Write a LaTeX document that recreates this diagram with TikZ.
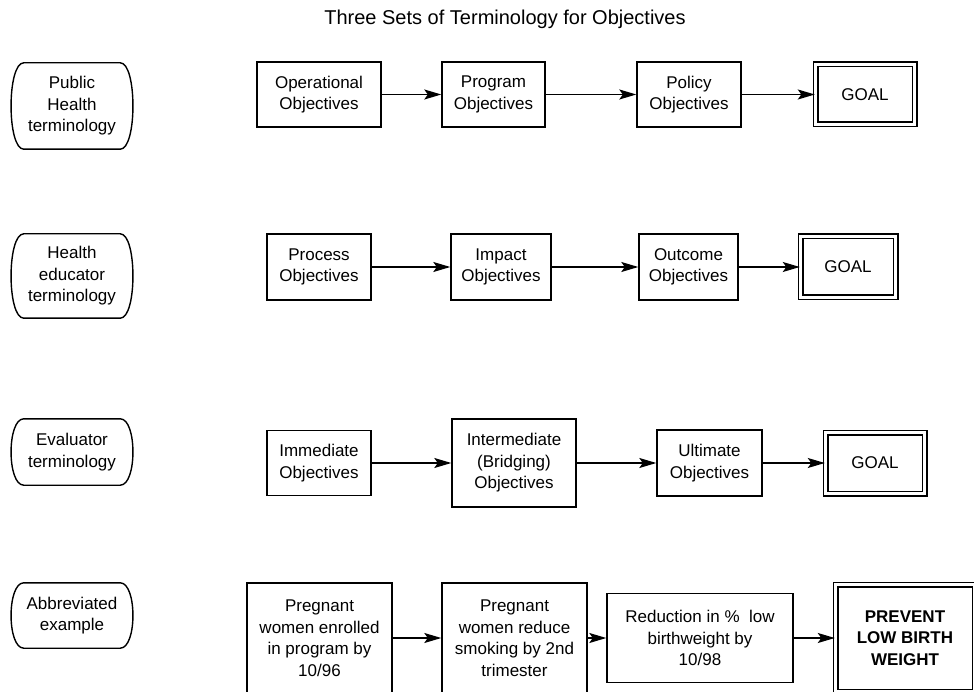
\documentclass[tikz,border=0pt]{standalone}
\usepackage{fontspec}
\setmainfont{Liberation Sans}
\usetikzlibrary{arrows.meta}

% rounded "barrel" outline drawn around a named node
\newcommand\barrelbox[1]{%
  \draw[line width=1.4pt]
    ([xshift=14pt]#1.north west) -- ([xshift=-14pt]#1.north east)
    .. controls ([xshift=3pt]#1.north east) and ([xshift=3pt]#1.south east) .. ([xshift=-14pt]#1.south east)
    -- ([xshift=14pt]#1.south west)
    .. controls ([xshift=-3pt]#1.south west) and ([xshift=-3pt]#1.north west) .. cycle;}

\begin{document}
\begin{tikzpicture}[x=1pt,y=-1pt,
  lbl/.style={font=\fontsize{17}{21.5}\selectfont, align=center, inner sep=0pt},
  term/.style={lbl, minimum width=124, draw=none},
  box/.style={lbl, draw, line width=1.4pt},
  goal/.style={lbl, draw, line width=1.4pt, double, double distance=3.2pt},
  arr/.style={line width=1.4pt, -{Stealth[length=17pt,width=10pt,inset=3.5pt]}}
]
\useasboundingbox (0,0) rectangle (974,692);
\clip (0,0) rectangle (974,692);

\node[font=\fontsize{20}{24}\selectfont] (title) at (505,19) {Three Sets of Terminology for Objectives};

% row labels
\node[term, minimum height=86] (t1) at (72,106) {Public\\Health\\terminology};
\node[term, minimum height=84] (t2) at (72,276) {Health\\educator\\terminology};
\node[term, minimum height=66] (t3) at (72,452) {Evaluator\\terminology};
\node[term, minimum height=65] (t4) at (72,615.5) {Abbreviated\\example};
\foreach \n in {t1,t2,t3,t4} {\barrelbox{\n}}

% public health terminology
\node[box, minimum width=124, minimum height=65] (a1) at (319,94.5) {Operational\\Objectives};
\node[box, minimum width=103, minimum height=65] (a2) at (493.5,94.5) {Program\\Objectives};
\node[box, minimum width=104, minimum height=65] (a3) at (689,94.5) {Policy\\Objectives};
\node[goal, minimum width=99, minimum height=60] (a4) at (865,94.5) {GOAL};

% health educator terminology
\node[box, minimum width=104, minimum height=66] (b1) at (319,267) {Process\\Objectives};
\node[box, minimum width=100, minimum height=66] (b2) at (501,267) {Impact\\Objectives};
\node[box, minimum width=99, minimum height=66] (b3) at (688.5,267) {Outcome\\Objectives};
\node[goal, minimum width=95, minimum height=61] (b4) at (848,267) {GOAL};

% evaluator terminology
\node[box, minimum width=104, minimum height=65] (c1) at (319,463) {Immediate\\Objectives};
\node[box, minimum width=124, minimum height=88] (c2) at (514,463) {Intermediate\\(Bridging)\\Objectives};
\node[box, minimum width=105, minimum height=66] (c3) at (709.5,463) {Ultimate\\Objectives};
\node[goal, minimum width=99, minimum height=61] (c4) at (875,463) {GOAL};

% abbreviated example
\node[box, minimum width=145, minimum height=110] (d1) at (319.5,638) {Pregnant\\women enrolled\\in program by\\10/96};
\node[box, minimum width=145, minimum height=110] (d2) at (514.5,638) {Pregnant\\women reduce\\smoking by 2nd\\trimester};
\node[box, minimum width=186, minimum height=89] (d3) at (700,638) {Reduction in \%\ \ low\\birthweight by\\10/98};
\node[goal, minimum width=139, minimum height=107, font=\fontsize{17}{21.5}\selectfont\bfseries] (d4) at (905,638) {PREVENT\\LOW BIRTH\\WEIGHT};

% connectors
\foreach \r in {a,b,c,d} {
  \draw[arr] (\r1.east) -- (\r2.west);
  \draw[arr] (\r2.east) -- (\r3.west);
  \draw[arr] (\r3.east) -- (\r4.west);
}
\end{tikzpicture}
\end{document}
